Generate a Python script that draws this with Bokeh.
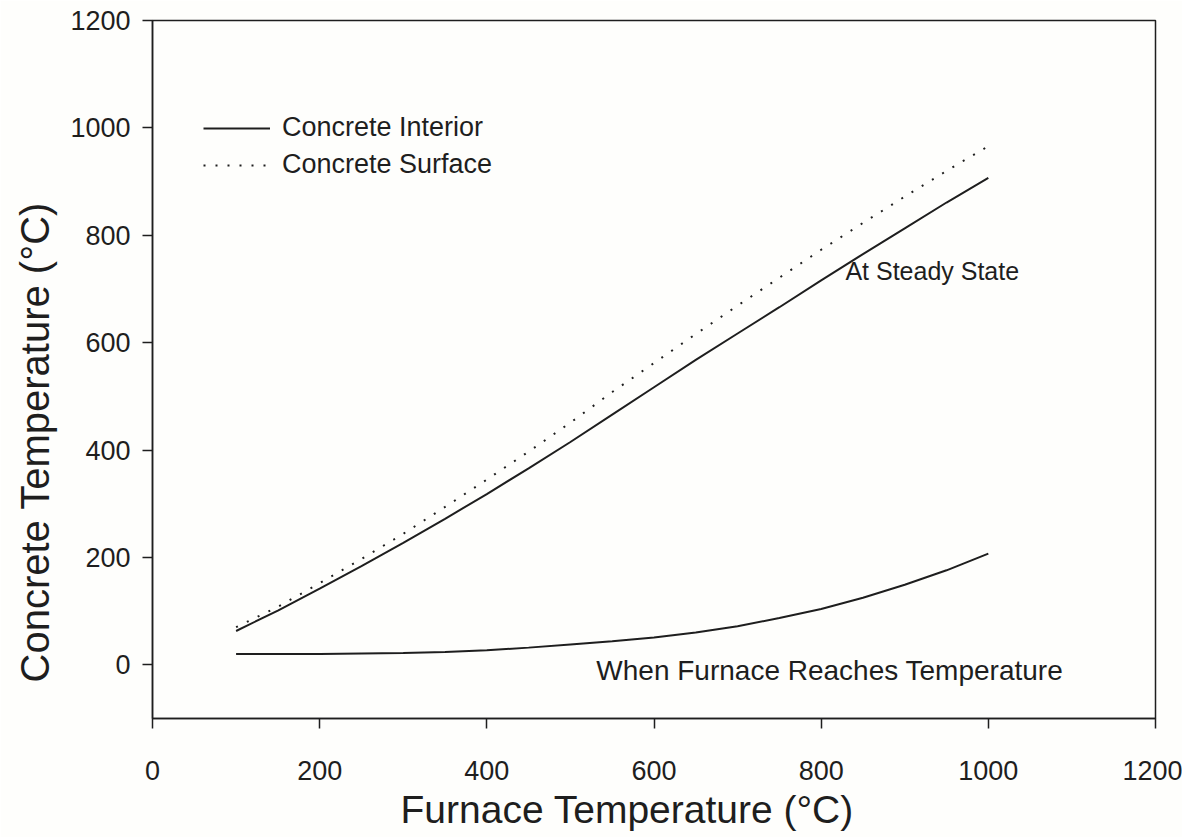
from bokeh.plotting import figure
from bokeh.models import Range1d, FixedTicker, Legend, LegendItem, Label, Title
from bokeh.embed import file_html
from bokeh.resources import INLINE

# ---- data ----
furnace_temp = [100, 150, 200, 250, 300, 350, 400, 450, 500, 550,
                600, 650, 700, 750, 800, 850, 900, 950, 1000]
interior_steady = [63, 101, 142, 184, 227, 272, 318, 366, 415, 466,
                   517, 568, 617, 666, 716, 765, 813, 861, 907]
surface_steady = [70, 108, 152, 197, 244, 294, 345, 397, 451, 508,
                  562, 616, 669, 721, 773, 823, 872, 920, 966]
interior_at_reach = [20, 20, 20, 21, 22, 24, 27, 32, 38, 44,
                     51, 60, 72, 87, 104, 125, 149, 176, 207]
x_ticks = [0, 200, 400, 600, 800, 1000, 1200]
y_ticks = [0, 200, 400, 600, 800, 1000, 1200]
legend_labels = ["Concrete Interior", "Concrete Surface"]
note_steady = "At Steady State"
note_reach = "When Furnace Reaches Temperature"
x_title = "Furnace Temperature (\u00b0C)"
y_title = "Concrete Temperature (\u00b0C)"

FONT = "Liberation Sans"
INK = "#1e1e1e"
BG = "#fefefc"

p = figure(frame_width=1003, frame_height=698,
           x_range=Range1d(0, 1200), y_range=Range1d(-100, 1200),
           output_backend="svg", toolbar_location=None,
           min_border_left=152, min_border_right=27,
           min_border_top=20, min_border_bottom=119,
           background_fill_color=BG, border_fill_color=BG)

p.outline_line_color = INK
p.outline_line_width = 1.5
p.xgrid.visible = False
p.ygrid.visible = False

for ax in (p.xaxis[0], p.yaxis[0]):
    ax.axis_line_color = INK
    ax.axis_line_width = 1.5
    ax.major_tick_line_color = INK
    ax.major_tick_line_width = 1.5
    ax.major_tick_out = 10
    ax.major_tick_in = 0
    ax.minor_tick_line_color = None
    ax.major_label_text_font = FONT
    ax.major_label_text_font_size = "27px"
    ax.major_label_text_color = INK

p.xaxis.ticker = FixedTicker(ticks=x_ticks)
p.yaxis.ticker = FixedTicker(ticks=y_ticks)
p.xaxis.major_label_standoff = 32
p.yaxis.major_label_standoff = 12

r1 = p.line(furnace_temp, interior_steady, line_color=INK, line_width=2)
r2 = p.line(furnace_temp, surface_steady, line_color=INK, line_width=2,
            line_dash="2 10")
p.line(furnace_temp, interior_at_reach, line_color=INK, line_width=2)

legend = Legend(items=[LegendItem(label=legend_labels[0], renderers=[r1]),
                       LegendItem(label=legend_labels[1], renderers=[r2])],
                location=(51, 538), margin=0, padding=0, spacing=6,
                glyph_width=67, glyph_height=30, label_height=30,
                label_standoff=12,
                label_text_font=FONT, label_text_font_size="27px",
                label_text_color=INK,
                background_fill_alpha=0, border_line_color=None)
p.add_layout(legend)

p.add_layout(Label(x=829, y=734, text=note_steady, text_font=FONT,
                   text_font_size="25px", text_color=INK,
                   text_baseline="middle"))
p.add_layout(Label(x=531, y=-11, text=note_reach, text_font=FONT,
                   text_font_size="28px", text_color=INK,
                   text_baseline="middle"))

p.add_layout(Title(text=x_title, align="left", offset=248, standoff=6,
                   text_font=FONT, text_font_size="39px",
                   text_font_style="normal", text_color=INK), "below")
p.add_layout(Title(text=y_title, align="left", offset=36, standoff=21,
                   text_font=FONT, text_font_size="40px",
                   text_font_style="normal", text_color=INK), "left")

open("out.html", "w").write(file_html(p, INLINE))
